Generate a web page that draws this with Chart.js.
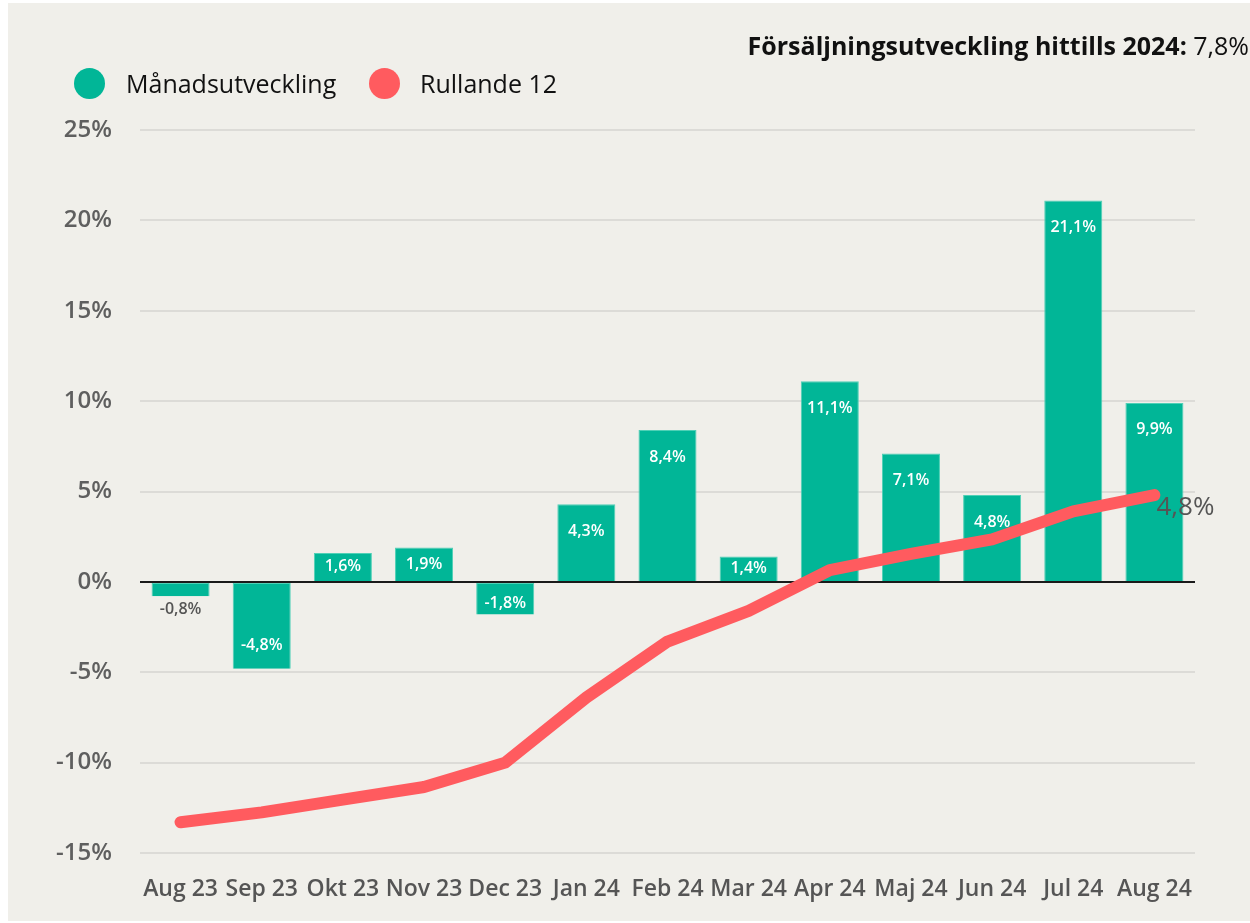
<!DOCTYPE html>
<html>
<head>
<meta charset="utf-8">
<script src="https://cdn.jsdelivr.net/npm/chart.js@4.4.1/dist/chart.umd.min.js"></script>
<style>
  html, body { margin: 0; padding: 0; background: #ffffff; }
  #panel { position: absolute; left: 8px; top: 3px; width: 1242px; height: 918px; background: #F0EFEA; }
  #wrap { position: absolute; left: 0; top: 0; width: 1250px; height: 923px; }
  #title { position: absolute; right: 1px; top: 28px; font-family: "Open Sans", sans-serif; font-size: 25px; letter-spacing: 0px; color: #111; white-space: nowrap; line-height: 34px; }
  #title b { font-weight: 700; }
  .leg { position: absolute; top: 66px; font-family: "Open Sans", sans-serif; font-size: 25px; color: #111; line-height: 34px; white-space: nowrap; }
  .dot { position: absolute; top: 68px; width: 31px; height: 31px; border-radius: 50%; }
</style>
</head>
<body>
<div id="panel"></div>
<div id="wrap"><canvas id="c" width="1250" height="923"></canvas></div>
<div id="title"><b>Försäljningsutveckling hittills 2024:</b> 7,8%</div>
<div class="dot" style="left:74px;background:#01B697"></div>
<div class="leg" style="left:126px">Månadsutveckling</div>
<div class="dot" style="left:369px;background:#FF5B5F"></div>
<div class="leg" style="left:420px">Rullande 12</div>
<script>
const categories = ["Aug 23","Sep 23","Okt 23","Nov 23","Dec 23","Jan 24","Feb 24","Mar 24","Apr 24","Maj 24","Jun 24","Jul 24","Aug 24"];
const monthly = [-0.8, -4.8, 1.6, 1.9, -1.8, 4.3, 8.4, 1.4, 11.1, 7.1, 4.8, 21.1, 9.9];
const rolling12 = [-13.3, -12.75, -12.05, -11.35, -10.0, -6.4, -3.3, -1.6, 0.65, 1.55, 2.35, 3.9, 4.8];
const yTicks = [-15, -10, -5, 0, 5, 10, 15, 20, 25];

const BAR = '#01B697', LINE = '#FF5B5F';
const fmt = v => v.toFixed(1).replace('.', ',') + '%';

const overlay = {
  id: 'overlay',
  afterDatasetDraw(chart, args) {
    const ctx = chart.ctx;
    const area = chart.chartArea;
    if (args.index === 0) {
      const y0 = chart.scales.y.getPixelForValue(0);
      ctx.save();
      ctx.strokeStyle = '#1a1a1a';
      ctx.lineWidth = 2;
      ctx.beginPath();
      ctx.moveTo(area.left, y0);
      ctx.lineTo(area.right, y0);
      ctx.stroke();
      ctx.font = '600 16px "Open Sans", sans-serif';
      ctx.textAlign = 'center';
      ctx.textBaseline = 'middle';
      args.meta.data.forEach((bar, i) => {
        const v = monthly[i];
        const top = Math.min(bar.y, bar.base), bot = Math.max(bar.y, bar.base);
        const h = bot - top;
        let y, col = '#ffffff';
        if (h < 20) {
          y = bot + 13; col = '#555555';
        } else if (v > 0) {
          y = Math.min(top + 27, (top + bot) / 2);
        } else {
          y = h < 48 ? bot - 11 : bot - 23;
        }
        ctx.fillStyle = col;
        ctx.fillText(fmt(v), bar.x, y);
      });
      ctx.restore();
    }
    if (args.index === 1) {
      const pts = args.meta.data;
      const p = pts[pts.length - 1];
      ctx.save();
      ctx.font = '26px "Open Sans", sans-serif';
      ctx.fillStyle = '#555555';
      ctx.textAlign = 'left';
      ctx.textBaseline = 'middle';
      ctx.fillText(fmt(rolling12[rolling12.length - 1]), p.x + 2, p.y + 12);
      ctx.restore();
    }
  }
};

new Chart(document.getElementById('c'), {
  data: {
    labels: categories,
    datasets: [
      { type: 'bar', label: 'Månadsutveckling', data: monthly, backgroundColor: BAR,
        borderColor: '#4fd0b6', borderWidth: {top: 1, left: 1, right: 1, bottom: 0}, borderSkipped: false,
        categoryPercentage: 1.0, barPercentage: 0.715, order: 2 },
      { type: 'line', label: 'Rullande 12', data: rolling12, borderColor: LINE, backgroundColor: LINE,
        borderWidth: 12, borderCapStyle: 'round', borderJoinStyle: 'round', pointRadius: 0, tension: 0, order: 1 }
    ]
  },
  options: {
    responsive: false,
    animation: false,
    devicePixelRatio: 1,
    layout: { padding: { left: 0, right: 55, top: 130, bottom: 0 } },
    plugins: { legend: { display: false }, tooltip: { enabled: false } },
    scales: {
      x: {
        grid: { display: false, drawTicks: false },
        border: { display: false },
        ticks: { autoSkip: false, maxRotation: 0, minRotation: 0, color: '#555555', padding: 23,
                 font: { family: '"Open Sans", sans-serif', size: 23, weight: '600' } },
        afterFit(s) { s.height = 70; }
      },
      y: {
        min: -15, max: 25,
        afterBuildTicks(s) { s.ticks = yTicks.map(v => ({ value: v })); },
        grid: { color: '#DCDBD7', lineWidth: 2, drawTicks: false },
        border: { display: false },
        ticks: { color: '#5f5f5f', padding: 28, callback: v => v + '%',
                 font: { family: '"Open Sans", sans-serif', size: 24, weight: '600' } },
        afterFit(s) { s.width = 140; }
      }
    }
  },
  plugins: [overlay]
});
</script>
</body>
</html>
